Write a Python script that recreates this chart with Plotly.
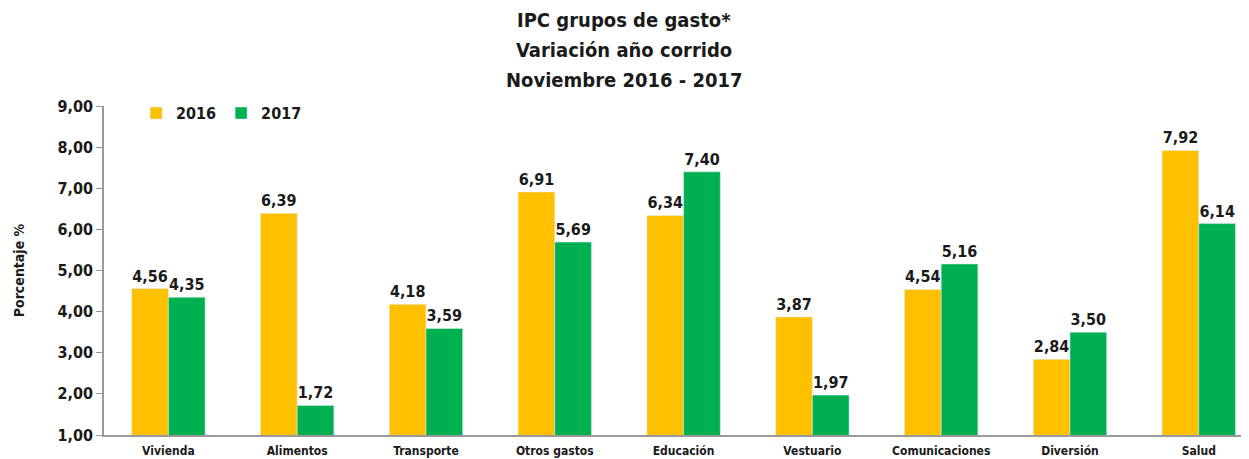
import plotly.graph_objects as go

categories = ["Vivienda", "Alimentos", "Transporte", "Otros gastos", "Educación",
              "Vestuario", "Comunicaciones", "Diversión", "Salud"]
values_2016 = [4.56, 6.39, 4.18, 6.91, 6.34, 3.87, 4.54, 2.84, 7.92]
values_2017 = [4.35, 1.72, 3.59, 5.69, 7.40, 1.97, 5.16, 3.50, 6.14]
y_ticks = [1, 2, 3, 4, 5, 6, 7, 8, 9]
y_tick_labels = [f"{v:.2f}".replace(".", ",") for v in y_ticks]
title_lines = ["IPC grupos de gasto*", "Variación año corrido", "Noviembre 2016 - 2017"]

FONT = "DejaVu Sans Condensed, Liberation Sans, sans-serif"
TXT = "#1a1a1a"

fig = go.Figure()
fig.add_trace(go.Bar(name="2016", x=categories, y=values_2016, marker_color="#FFC000",
                     texttemplate="%{y:.2f}", textposition="outside",
                     textfont=dict(family=FONT, size=16, color=TXT, weight="bold"), cliponaxis=False))
fig.add_trace(go.Bar(name="2017", x=categories, y=values_2017, marker_color="#00B050",
                     texttemplate="%{y:.2f}", textposition="outside",
                     textfont=dict(family=FONT, size=16, color=TXT, weight="bold"), cliponaxis=False))

# title lines as annotations (plot area spans 329 px tall)
for i, line in enumerate(title_lines):
    fig.add_annotation(text=line, xref="paper", yref="paper", x=0.4545, y=1.262 - i * 0.091,
                       xanchor="center", yanchor="middle", showarrow=False,
                       font=dict(family=FONT, size=20, color=TXT, weight="bold"))

fig.update_layout(
    width=1241, height=451,
    separators=",.",
    barmode="group", bargap=0.43, bargroupgap=0,
    plot_bgcolor="white", paper_bgcolor="white",
    margin=dict(l=96, r=0, t=98, b=24),
    font=dict(family=FONT, color=TXT),
    legend=dict(orientation="h", x=0.028, y=1.03, xanchor="left", yanchor="top",
                font=dict(family=FONT, size=16, color=TXT, weight="bold"),
                bgcolor="rgba(0,0,0,0)", itemwidth=30, traceorder="normal"),
    yaxis=dict(range=[1, 9], tickvals=y_ticks, ticktext=y_tick_labels, showgrid=False,
               showline=True, linecolor="#999999", linewidth=1.5, ticks="outside",
               tickcolor="#999999", ticklen=6,
               tickfont=dict(family=FONT, size=16, color=TXT, weight="bold"),
               title=dict(text="Porcentaje %", font=dict(family=FONT, size=14, weight="bold"),
                          standoff=30)),
    xaxis=dict(range=[-0.5, 8.39], showline=True, linecolor="#999999", linewidth=1.5,
               ticks="", ticklabelstandoff=4,
               tickfont=dict(family=FONT, size=12, color=TXT, weight="bold")),
)

fig.write_html("out.html")
